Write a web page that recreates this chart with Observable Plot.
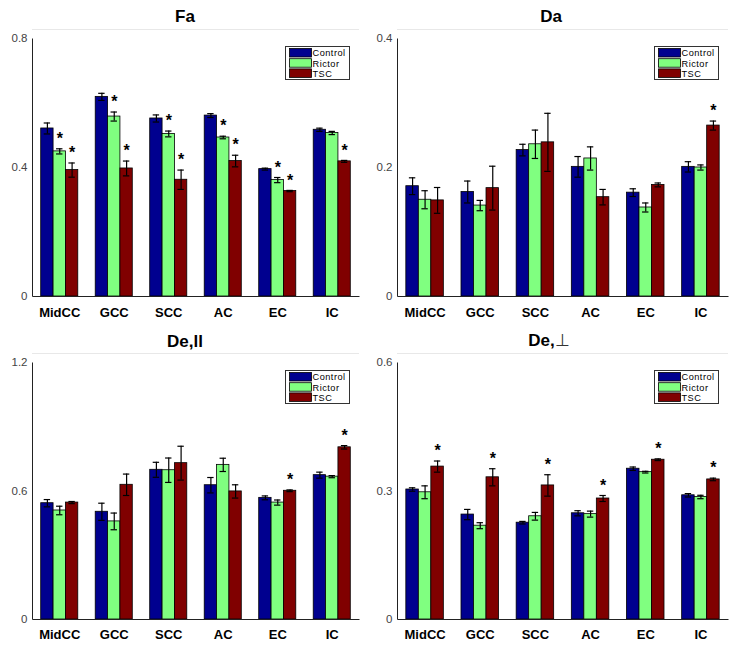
<!DOCTYPE html>
<html><head><meta charset="utf-8">
<script src="https://cdn.jsdelivr.net/npm/d3@7"></script>
<script src="https://cdn.jsdelivr.net/npm/@observablehq/plot@0.6"></script>
<style>
body{margin:0;background:#fff;font-family:"Liberation Sans",Arial,sans-serif;}
#root{position:relative;width:736px;height:649px;overflow:hidden;background:#fff;}
.title{position:absolute;width:370px;text-align:center;font-weight:bold;font-size:17px;line-height:20px;color:#000;}
.title .thin{font-weight:normal;color:#333;}
.panel{position:absolute;}
.legend{position:absolute;}
</style></head>
<body><div id="root"></div>
<script>
const regions = ["MidCC", "GCC", "SCC", "AC", "EC", "IC"];
const groups = ["Control", "Rictor", "TSC"];
const groupColors = ["#00008f", "#80ff80", "#800000"];

// Fa
const faControl    = [0.521, 0.619, 0.552, 0.561, 0.395, 0.517];
const faControlErr = [0.017, 0.011, 0.011, 0.006, 0.003, 0.005];
const faRictor     = [0.450, 0.558, 0.504, 0.493, 0.361, 0.507];
const faRictorErr  = [0.008, 0.014, 0.009, 0.004, 0.008, 0.005];
const faTSC        = [0.392, 0.397, 0.362, 0.420, 0.327, 0.419];
const faTSCErr     = [0.022, 0.023, 0.030, 0.018, 0.002, 0.003];
const faStars = ["MidCC:Rictor", "MidCC:TSC", "GCC:Rictor", "GCC:TSC", "SCC:Rictor", "SCC:TSC",
                 "AC:Rictor", "AC:TSC", "EC:Rictor", "EC:TSC", "IC:TSC"];

// Da
const daControl    = [0.171, 0.162, 0.227, 0.201, 0.161, 0.201];
const daControlErr = [0.013, 0.017, 0.009, 0.016, 0.006, 0.008];
const daRictor     = [0.150, 0.141, 0.236, 0.214, 0.138, 0.200];
const daRictorErr  = [0.014, 0.008, 0.022, 0.018, 0.007, 0.004];
const daTSC        = [0.149, 0.168, 0.239, 0.154, 0.173, 0.265];
const daTSCErr     = [0.020, 0.034, 0.045, 0.012, 0.003, 0.007];
const daStars = ["IC:TSC"];

// De,ll
const deParControl    = [0.543, 0.503, 0.699, 0.627, 0.568, 0.674];
const deParControlErr = [0.017, 0.040, 0.035, 0.036, 0.009, 0.014];
const deParRictor     = [0.509, 0.458, 0.697, 0.722, 0.546, 0.667];
const deParRictorErr  = [0.020, 0.039, 0.057, 0.031, 0.012, 0.005];
const deParTSC        = [0.546, 0.629, 0.730, 0.598, 0.601, 0.804];
const deParTSCErr     = [0.005, 0.050, 0.079, 0.031, 0.004, 0.008];
const deParStars = ["EC:TSC", "IC:TSC"];

// De,perp
const dePerpControl    = [0.3035, 0.245, 0.226, 0.248, 0.352, 0.290];
const dePerpControlErr = [0.004, 0.012, 0.003, 0.006, 0.004, 0.004];
const dePerpRictor     = [0.297, 0.219, 0.241, 0.246, 0.344, 0.286];
const dePerpRictorErr  = [0.015, 0.007, 0.009, 0.007, 0.002, 0.004];
const dePerpTSC        = [0.357, 0.332, 0.313, 0.2825, 0.373, 0.327];
const dePerpTSCErr     = [0.013, 0.020, 0.025, 0.007, 0.002, 0.003];
const dePerpStars = ["MidCC:TSC", "GCC:TSC", "SCC:TSC", "AC:TSC", "EC:TSC", "IC:TSC"];

const root = document.getElementById("root");

function buildRows(series, stars) {
  const rows = [];
  groups.forEach((g, k) => regions.forEach((r, i) => rows.push({
    region: r, group: g, k,
    value: series[k][0][i], err: series[k][1][i],
    star: stars.includes(r + ":" + g)
  })));
  return rows;
}

function panel(cfg) {
  const {series, stars, ymax, left, top, width, height, mt, mb, ml, mr, tickPadX, titleHTML, titleLeft, titleTop} = cfg;
  const rows = buildRows(series, stars);
  const pin = 0.32, pout = 0.16;
  const W = width - ml - mr, H = height - mt - mb;
  const step = W / (regions.length - pin + 2 * pout);
  const bw = step * (1 - pin);
  const w = bw / 3;
  const cap = 3.2;
  const marks = [
    Plot.ruleY([ymax], {dy: -9, stroke: "#e8e8e8"})
  ];
  groups.forEach((g, k) => {
    const rk = rows.filter(d => d.k === k);
    marks.push(
      Plot.barY(rk, {x: "region", y: "value", fill: groupColors[k], stroke: "#000", strokeWidth: 0.8,
        insetLeft: k * w, insetRight: (2 - k) * w}),
      Plot.ruleX(rk, {x: "region", y1: d => d.value - d.err, y2: d => d.value + d.err,
        dx: (k - 1) * w, stroke: "#000", strokeWidth: 1.2}),
      Plot.tickY(rk, {x: "region", y: d => d.value + d.err, stroke: "#000", strokeWidth: 1.2,
        insetLeft: (k + 0.5) * w - cap, insetRight: bw - (k + 0.5) * w - cap}),
      Plot.tickY(rk, {x: "region", y: d => d.value - d.err, stroke: "#000", strokeWidth: 1.2,
        insetLeft: (k + 0.5) * w - cap, insetRight: bw - (k + 0.5) * w - cap}),
      Plot.text(rk.filter(d => d.star), {x: "region", y: d => d.value + d.err, dx: (k - 1) * w, dy: -10,
        text: () => "*", fontSize: 16, fontWeight: "bold", fill: "#000"})
    );
  });
  marks.push(
    Plot.frame({stroke: "#222", strokeWidth: 1, strokeDasharray: `0 ${W + H} ${W + H} 0`}),
    Plot.axisY({ticks: [0, ymax / 2, ymax], tickFormat: d => d === 0 ? "0" : d3.format(".1f")(d),
      tickSize: 0, tickPadding: 5, fontSize: 11.5, fill: "#444", label: null}),
    Plot.axisX({tickSize: 0, tickPadding: tickPadX, fontSize: 13, fontWeight: "bold", fill: "#000", label: null})
  );
  const chart = Plot.plot({
    width, height, marginTop: mt, marginBottom: mb, marginLeft: ml, marginRight: mr,
    style: {background: "none", fontFamily: "'Liberation Sans', Arial, sans-serif"},
    x: {domain: regions, paddingInner: pin, paddingOuter: pout, round: false},
    y: {domain: [0, ymax]},
    marks
  });
  const holder = document.createElement("div");
  holder.className = "panel";
  holder.style.left = left + "px";
  holder.style.top = top + "px";
  holder.appendChild(chart);
  root.appendChild(holder);

  const t = document.createElement("div");
  t.className = "title";
  t.style.left = titleLeft + "px";
  t.style.top = titleTop + "px";
  t.innerHTML = titleHTML;
  root.appendChild(t);

  // legend in top-right of plot area
  const lw = 65, lh = 34;
  const lx = left + width - mr - 9 - lw;
  const ly = top + mt + 8;
  const svg = d3.create("svg").attr("class", "legend").attr("width", lw).attr("height", lh)
    .style("left", lx + "px").style("top", ly + "px");
  svg.append("rect").attr("x", 0.5).attr("y", 0.5).attr("width", lw - 1).attr("height", lh - 1)
    .attr("fill", "#fff").attr("stroke", "#333");
  groups.forEach((g, i) => {
    svg.append("rect").attr("x", 4.5).attr("y", 2.5 + i * 10.2).attr("width", 22).attr("height", 8.5)
      .attr("fill", groupColors[i]).attr("stroke", "#000").attr("stroke-width", 0.8);
    svg.append("text").attr("x", 27.5).attr("y", 10.3 + i * 10.2).attr("font-size", 9.2)
      .attr("letter-spacing", "0.5px")
      .attr("font-family", "'Liberation Sans', Arial, sans-serif").attr("fill", "#000").text(g);
  });
  root.appendChild(svg.node());
}

panel({series: [[faControl, faControlErr], [faRictor, faRictorErr], [faTSC, faTSCErr]], stars: faStars,
  ymax: 0.8, left: 0, top: 26, width: 366, height: 294, mt: 12, mb: 24, ml: 32, mr: 7, tickPadX: 11,
  titleHTML: "Fa", titleLeft: 0, titleTop: 7});
panel({series: [[daControl, daControlErr], [daRictor, daRictorErr], [daTSC, daTSCErr]], stars: daStars,
  ymax: 0.4, left: 366, top: 26, width: 370, height: 294, mt: 12, mb: 24, ml: 31, mr: 8, tickPadX: 11,
  titleHTML: "Da", titleLeft: 366, titleTop: 7});
panel({series: [[deParControl, deParControlErr], [deParRictor, deParRictorErr], [deParTSC, deParTSCErr]], stars: deParStars,
  ymax: 1.2, left: 0, top: 346, width: 366, height: 303, mt: 16, mb: 30, ml: 32, mr: 7, tickPadX: 10,
  titleHTML: "De,ll", titleLeft: 0, titleTop: 332});
panel({series: [[dePerpControl, dePerpControlErr], [dePerpRictor, dePerpRictorErr], [dePerpTSC, dePerpTSCErr]], stars: dePerpStars,
  ymax: 0.6, left: 366, top: 346, width: 370, height: 303, mt: 16, mb: 30, ml: 31, mr: 8, tickPadX: 10,
  titleHTML: "De,<span class='thin'>⊥</span>", titleLeft: 364, titleTop: 331});
</script>
</body></html>
